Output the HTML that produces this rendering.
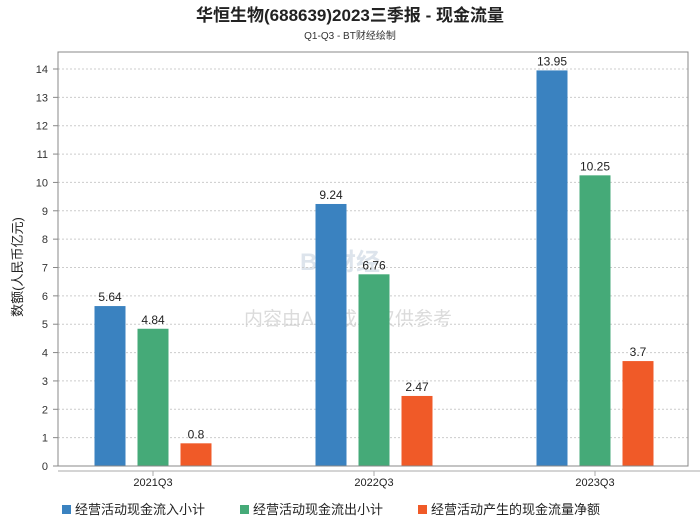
<!DOCTYPE html>
<html><head><meta charset="utf-8"><style>
body{margin:0;background:#fff;font-family:"Liberation Sans","Noto Sans CJK SC",sans-serif;}
</style></head><body>
<svg id="c" width="700" height="524" xmlns="http://www.w3.org/2000/svg" font-family="Liberation Sans, Noto Sans CJK SC, sans-serif">
<text x="350" y="21" text-anchor="middle" font-size="17" font-weight="bold" fill="#222">华恒生物(688639)2023三季报 - 现金流量</text>
<text x="350" y="39" text-anchor="middle" font-size="10" fill="#333">Q1-Q3 - BT财经绘制</text>
<text x="340" y="270" text-anchor="middle" font-size="24" font-weight="bold" fill="#c8d3e0" opacity="0.6">BT财经</text>
<text x="348" y="325" text-anchor="middle" font-size="19" fill="#ccc" opacity="0.7">内容由AI生成，仅供参考</text>
<text transform="translate(22,267) rotate(-90)" text-anchor="middle" font-size="13" fill="#222">数额(人民币亿元)</text>
<g id="grid"></g><g id="bars"></g>
<rect x="58" y="52" width="630" height="414" fill="none" stroke="#888"/>
<line x1="58" y1="471" x2="700" y2="471" stroke="#aaa"/>
<g id="legend"></g>
</svg>
<script>
const categories=["2021Q3","2022Q3","2023Q3"];
const inflow=[5.64,9.24,13.95];
const outflow=[4.84,6.76,10.25];
const net=[0.8,2.47,3.7];
const yTicks=[0,1,2,3,4,5,6,7,8,9,10,11,12,13,14];
const seriesNames=["经营活动现金流入小计","经营活动现金流出小计","经营活动产生的现金流量净额"];
const colors=["#3a82c0","#45aa78","#f05a28"];
const NS="http://www.w3.org/2000/svg";
const y=v=>466-v*(397/14);
const xc=i=>153+i*221;
function mk(t,a,p){const e=document.createElementNS(NS,t);for(const k in a)e.setAttribute(k,a[k]);p.appendChild(e);return e;}
const g=document.getElementById('grid');
yTicks.forEach(t=>{
 if(t>0){const l=mk('line',{x1:58,x2:688,y1:y(t),y2:y(t),stroke:'#ccc','stroke-dasharray':'2,2'},g);
 
 }
 const tk=mk('line',{x1:53,x2:58,y1:y(t),y2:y(t),stroke:'#888'},g);
 
 
 const tx=mk('text',{x:48,y:y(t)+4,'text-anchor':'end','font-size':11,fill:'#333'},g);tx.textContent=t;
 
 
});
const b=document.getElementById('bars');
[inflow,outflow,net].forEach((s,si)=>{
 s.forEach((v,i)=>{
  const x=xc(i)+(si-1)*43-15.5;
  const r=mk('rect',{x:x,y:y(v),width:31,height:466-y(v),fill:colors[si]},b);
  
  
  const t=mk('text',{x:x+15.5,y:y(v)-5,'text-anchor':'middle','font-size':12,fill:'#222'},b);t.textContent=v;
  
  
 });
});
categories.forEach((c,i)=>{
 const tk=mk('line',{x1:xc(i),x2:xc(i),y1:471,y2:476,stroke:'#aaa'},b);
 
 
 const t=mk('text',{x:xc(i),y:486,'text-anchor':'middle','font-size':11,fill:'#222'},b);t.textContent=c;
 
 
});
const lg=document.getElementById('legend');
const lx=[62,240,418];
seriesNames.forEach((n,i)=>{
 const r=mk('rect',{x:lx[i],y:505,width:9,height:9,fill:colors[i]},lg);
 
 
 const t=mk('text',{x:lx[i]+13,y:514,'font-size':13,fill:'#222'},lg);t.textContent=n;
 
 
});
</script>
</body></html>
